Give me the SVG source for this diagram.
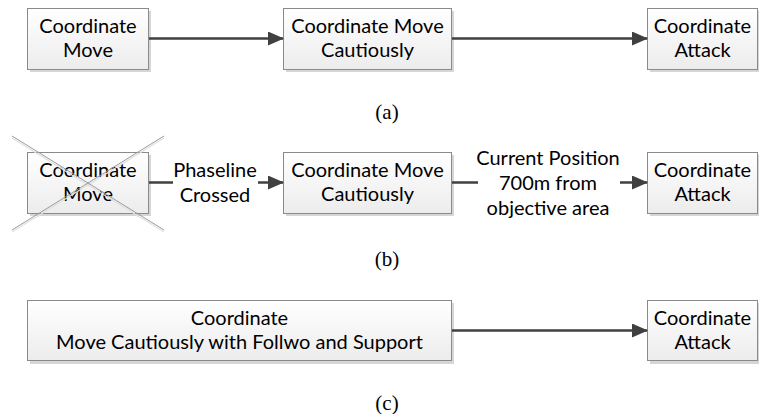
<svg xmlns="http://www.w3.org/2000/svg" width="759" height="414" viewBox="0 0 759 414">
  <defs>
    <linearGradient id="boxFill" x1="0" y1="0" x2="0" y2="1">
      <stop offset="0" stop-color="#ffffff"/>
      <stop offset="1" stop-color="#ececec"/>
    </linearGradient>
    <marker id="arrow" viewBox="0 0 16 14" refX="15" refY="7" markerWidth="16" markerHeight="14" markerUnits="userSpaceOnUse" orient="auto">
      <path d="M0,0 L16,7 L0,14 Z" fill="#404040"/>
    </marker>
  </defs>
  <style>
    .shadow { fill: #d6d6d6; }
    .box { fill: url(#boxFill); stroke: #8a8a8a; stroke-width: 1; }
    .lbl { font-family: Lato, "Open Sans", sans-serif; font-size: 20px; fill: #000000; text-anchor: middle; }
    .cap { font-family: "Liberation Serif", serif; font-size: 21px; fill: #000000; text-anchor: middle; }
    .wire { stroke: #404040; stroke-width: 2.5; fill: none; }
    .cross { stroke: #9a9a9a; stroke-width: 1; fill: none; }
    .crossShade { stroke: #e0e0e0; stroke-width: 1.2; fill: none; }
  </style>
  <rect width="759" height="414" fill="#ffffff"/>

  <!-- Row (a) -->
  <g id="a-move">
    <rect class="shadow" x="30" y="11" width="121" height="61"/>
    <rect class="box" x="27.5" y="8.5" width="121" height="61"/>
    <text class="lbl" x="88" y="33">Coordinate</text>
    <text class="lbl" x="88" y="57">Move</text>
  </g>
  <g id="a-cautious">
    <rect class="shadow" x="286" y="11" width="168" height="61"/>
    <rect class="box" x="283.5" y="8.5" width="168" height="61"/>
    <text class="lbl" x="367.5" y="33">Coordinate Move</text>
    <text class="lbl" x="367.5" y="57">Cautiously</text>
  </g>
  <g id="a-attack">
    <rect class="shadow" x="650" y="11" width="112" height="61"/>
    <rect class="box" x="647.5" y="8.5" width="110" height="61"/>
    <text class="lbl" x="702.5" y="33">Coordinate</text>
    <text class="lbl" x="702.5" y="57">Attack</text>
  </g>
  <text class="cap" x="387" y="119">(a)</text>

  <!-- Row (b) -->
  <g id="b-move">
    <rect class="shadow" x="30" y="155" width="121" height="61"/>
    <rect class="box" x="27.5" y="152.5" width="121" height="61"/>
    <text class="lbl" x="88" y="177">Coordinate</text>
    <text class="lbl" x="88" y="201">Move</text>
    <line class="crossShade" x1="12" y1="138" x2="164" y2="232"/>
    <line class="crossShade" x1="12" y1="232" x2="164" y2="138"/>
    <line class="cross" x1="12" y1="136" x2="164" y2="230"/>
    <line class="cross" x1="12" y1="230" x2="164" y2="136"/>
  </g>
  <g id="b-cautious">
    <rect class="shadow" x="286" y="155" width="168" height="61"/>
    <rect class="box" x="283.5" y="152.5" width="168" height="61"/>
    <text class="lbl" x="367.5" y="177">Coordinate Move</text>
    <text class="lbl" x="367.5" y="201">Cautiously</text>
  </g>
  <g id="b-attack">
    <rect class="shadow" x="650" y="155" width="112" height="61"/>
    <rect class="box" x="647.5" y="152.5" width="110" height="61"/>
    <text class="lbl" x="702.5" y="177">Coordinate</text>
    <text class="lbl" x="702.5" y="201">Attack</text>
  </g>
  <text class="cap" x="387" y="266">(b)</text>

  <!-- Row (c) -->
  <g id="c-cautious-support">
    <rect class="shadow" x="30" y="303" width="424" height="61"/>
    <rect class="box" x="27.5" y="300.5" width="424" height="60"/>
    <text class="lbl" x="239.5" y="324.5">Coordinate</text>
    <text class="lbl" x="239.5" y="348.5">Move Cautiously with Follwo and Support</text>
  </g>
  <g id="c-attack">
    <rect class="shadow" x="650" y="303" width="112" height="61"/>
    <rect class="box" x="647.5" y="300.5" width="110" height="60"/>
    <text class="lbl" x="702.5" y="324.5">Coordinate</text>
    <text class="lbl" x="702.5" y="348.5">Attack</text>
  </g>
  <text class="cap" x="387" y="410">(c)</text>

  <!-- Connectors and their labels -->
  <g id="connectors">
    <line class="wire" x1="149" y1="38.5" x2="283" y2="38.5" marker-end="url(#arrow)"/>
    <line class="wire" x1="452" y1="38.5" x2="647" y2="38.5" marker-end="url(#arrow)"/>

    <line class="wire" x1="149" y1="182.5" x2="173" y2="182.5"/>
    <line class="wire" x1="258" y1="182.5" x2="283" y2="182.5" marker-end="url(#arrow)"/>
    <text class="lbl" x="215" y="176.5">Phaseline</text>
    <text class="lbl" x="215" y="201.5">Crossed</text>

    <line class="wire" x1="452" y1="182.5" x2="478" y2="182.5"/>
    <line class="wire" x1="620" y1="182.5" x2="647" y2="182.5" marker-end="url(#arrow)"/>
    <text class="lbl" x="548" y="164.5">Current Position</text>
    <text class="lbl" x="548" y="189.5">700m from</text>
    <text class="lbl" x="548" y="214.5">objective area</text>

    <line class="wire" x1="452" y1="330.5" x2="647" y2="330.5" marker-end="url(#arrow)"/>
  </g>
</svg>
